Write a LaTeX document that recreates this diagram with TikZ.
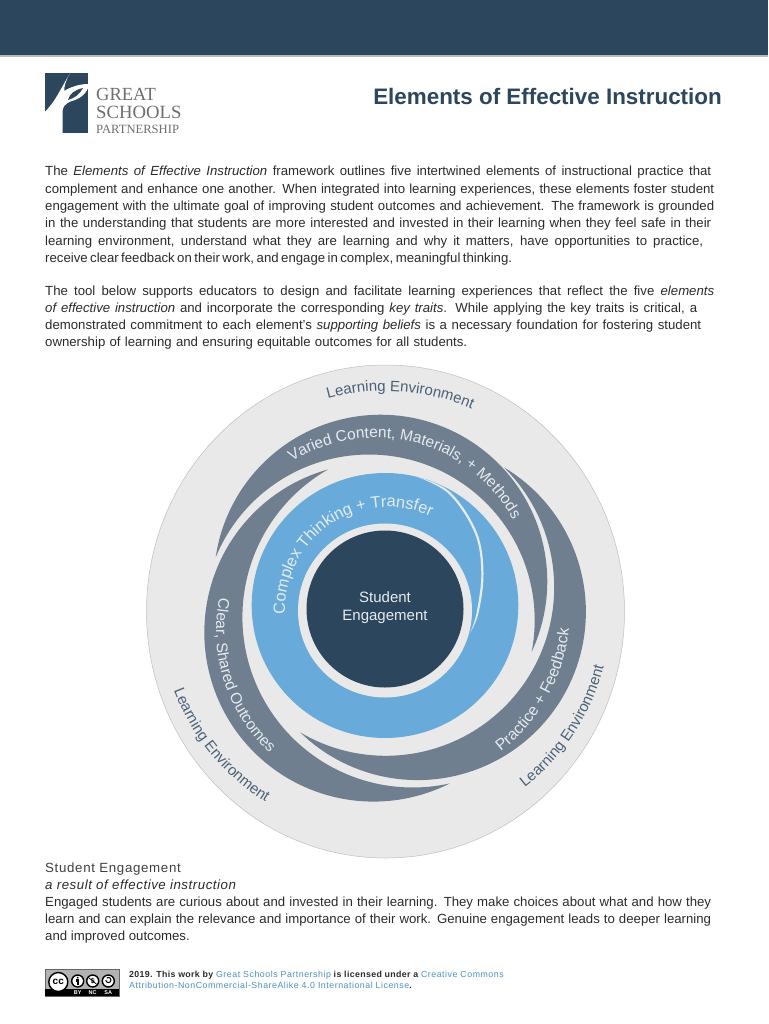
\documentclass[tikz,border=0pt]{standalone}
\usepackage{fontspec}
\setmainfont{Liberation Sans}
\newfontfamily\logofont{Liberation Serif}
\newfontfamily\footfont[LetterSpace=4]{Liberation Sans}
\newfontfamily\footlink[LetterSpace=6]{Liberation Sans}
\newfontfamily\headfont[LetterSpace=5]{Liberation Sans}
\newfontfamily\subheadfont[LetterSpace=4]{Liberation Sans}
\usetikzlibrary{decorations.text}
\definecolor{navy}{HTML}{2C465E}
\definecolor{slate}{HTML}{6F7F8F}
\definecolor{skyblue}{HTML}{68ABDB}
\definecolor{lightgrey}{HTML}{E9E9E9}
\definecolor{ringtext}{HTML}{4A6177}
\definecolor{paper}{HTML}{E6EBEF}
\definecolor{ink}{HTML}{2B2B2B}
\definecolor{linkblue}{HTML}{4C8FC6}
\definecolor{logogrey}{HTML}{6C6F72}
\newcommand\bodyline[4]{\node[bodytext] (#1) at (45,#2) {\hbox to \dimexpr#3pt-45pt\relax{#4}};}
\newcommand\arctext[8]{% colour, cx, cy, r, from, to, text, size
  \begin{scope}[x=1pt,y=1pt]
  \path[decorate,decoration={text along path,text align=center,
    text={|\fontsize{#8}{#8}\selectfont\color{#1}|#7}}]
    ({#2+#4*cos(#5)},{-#3+#4*sin(#5)}) arc [start angle=#5,end angle=#6,radius=#4];
  \end{scope}}
% crescent between two circles: outer cx cy r from to, inner cx cy r from to
\newcommand\crescent[8]{%
  \fill[band] plot[domain=#4:#5,samples=90] ({#1+#3*cos(\x)},{#2-#3*sin(\x)})
   -- plot[domain=#5:#4,samples=2] ({#1+#3*cos(\x)},{#2-#3*sin(\x)});
  #6 #7 #8}
\newcommand\lune[2]{\fill[band] plot[domain=#1,samples=90] #2 -- cycle;}
\tikzset{
  bodytext/.style={anchor=base west,inner sep=0pt,text=ink,font=\fontsize{13.2}{16}\selectfont},
  footline/.style={anchor=base west,inner sep=0pt,text=ink,font=\footfont\fontsize{8.8}{10}\selectfont\bfseries},
  logotext/.style={anchor=base west,inner sep=0pt,text=logogrey,font=\logofont},
  centertext/.style={inner sep=0pt,text=paper,font=\fontsize{15}{18}\selectfont},
  band/.style={fill=slate},
  cctag/.style={inner sep=0pt,text=white,font=\fontsize{5.5}{6}\selectfont\bfseries},
  ccring/.style={draw=black,line width=1.4pt,fill=white},
  sm/.style={smooth,tension=.6}
}
\newcommand\linktext[1]{\textcolor{linkblue}{\footlink\mdseries #1}}
\begin{document}
\begin{tikzpicture}[x=1pt,y=-1pt]
\useasboundingbox (0,0) rectangle (768,1024);
\fill[white] (0,0) rectangle (768,1024);
% header
\fill[navy] (0,0) rectangle (768,55);
\fill[black!28] (0,55) rectangle (768,57);
% logo
\fill[navy] (45,73.3) rectangle (88,133.3);
\fill[white] (45,111.7) .. controls (55,102) and (60,90) .. (70,73.3)
  .. controls (66,80) and (64,86) .. (64.3,91)
  .. controls (70,87) and (80,84) .. (88,84)
  -- (88,88.3) .. controls (84,97) and (76,100) .. (70,101.7)
  .. controls (65,104) and (62.5,107) .. (62.5,112)
  -- (62.5,133.3) -- (45,133.3) -- cycle;
\fill[navy] (68,100) .. controls (70,93) and (75,90) .. (83,88)
  .. controls (80,94) and (75,98) .. (68,100) -- cycle;
\node[logotext,font=\logofont\fontsize{18.5}{20}\selectfont] (lg1) at (96,100.7) {GREAT};
\node[logotext,font=\logofont\fontsize{18.7}{20}\selectfont] (lg2) at (96,118.7) {SCHOOLS};
\node[logotext,font=\logofont\fontsize{12.6}{14}\selectfont] (lg3) at (96,134) {PARTNERSHIP};
% title
\node[anchor=base east,inner sep=0pt,text=navy,font=\fontsize{22.4}{24}\selectfont\bfseries] (title) at (722,105) {Elements of Effective Instruction};
% paragraphs
\bodyline{a1}{176}{711}{The \textit{Elements of Effective Instruction} framework outlines five intertwined elements of instructional practice that}
\bodyline{a2}{193.3}{714}{complement and enhance one another. When integrated into learning experiences, these elements foster student}
\bodyline{a3}{210.6}{714}{engagement with the ultimate goal of improving student outcomes and achievement. The framework is grounded}
\bodyline{a4}{228}{711}{in the understanding that students are more interested and invested in their learning when they feel safe in their}
\bodyline{a5}{245.3}{703}{learning environment, understand what they are learning and why it matters, have opportunities to practice,}
\bodyline{a6}{262.6}{502}{receive clear feedback on their work, and engage in complex, meaningful thinking.}
\bodyline{b1}{295}{714}{The tool below supports educators to design and facilitate learning experiences that reflect the five \textit{elements}}
\bodyline{b2}{312}{697}{\textit{of effective instruction} and incorporate the corresponding \textit{key traits}. While applying the key traits is critical, a}
\bodyline{b3}{329.3}{701}{demonstrated commitment to each element’s \textit{supporting beliefs} is a necessary foundation for fostering student}
\bodyline{b4}{346.6}{467}{ownership of learning and ensuring equitable outcomes for all students.}
% diagram
\fill[lightgrey,draw=black!25,line width=.5pt] (385.5,611.5) ellipse [x radius=239,y radius=246.5];
% Varied Content band
\fill[band] plot[domain=171.7:-24.9,samples=90] ({380.6+166.7*cos(\x)},{581.4-166.7*sin(\x)})
  -- plot[domain=-11:157.7,samples=90] ({369+165.7*cos(\x)},{620.2-165.7*sin(\x)}) -- cycle;
% Clear, Shared Outcomes band
\fill[band] plot[domain=105.5:296.9,samples=90] ({373.5+169.2*cos(\x)},{632.4-169.2*sin(\x)})
  -- plot[domain=282.7:119.7,samples=90] ({412.7+170.3*cos(\x)},{617.2-170.3*sin(\x)}) -- cycle;
% Practice + Feedback band
\fill[band] plot[domain=59.1:-134.3,samples=90] ({417.6+168.3*cos(\x)},{611.8-168.3*sin(\x)})
  -- plot[domain=-120.6:45.5,samples=90] ({385.8+168.4*cos(\x)},{587.4-168.4*sin(\x)}) -- cycle;
\fill[skyblue] (385,605.5) ellipse [x radius=133.3,y radius=132.5];
\fill[lightgrey] (385,610.5) circle [radius=87];
\fill[paper] plot[sm] coordinates {(416.7,476.7) (450,492) (476.7,532) (483.5,573) (478.5,613) (470,633)}
  -- plot[sm] coordinates {(470,633) (476.5,613) (481.3,573) (474.7,533) (449,494) (416.7,476.7)} -- cycle;
\fill[navy] (385,609) circle [radius=78.5];
\node[centertext] (se1) at (385,597) {Student};
\node[centertext] (se2) at (385,617) {Engagement};
\arctext{ringtext}{385}{610}{219}{105}{66.8}{Learning Environment}{15}
\arctext{ringtext}{385}{610}{226}{200.4}{238.6}{Learning Environment}{15}
\arctext{ringtext}{385}{610}{226}{-52.1}{-14.3}{Learning Environment}{15}
\arctext{paper}{375.6}{593.4}{155.7}{122.5}{28.1}{Varied Content, Materials, + Methods}{15.5}
\arctext{paper}{388}{610}{103}{183.7}{64.1}{Complex Thinking + Transfer}{16.3}
\arctext{paper}{382.8}{630.7}{166.7}{167.6}{228.2}{Clear, Shared Outcomes}{15.5}
\arctext{paper}{390}{610}{180}{-52.4}{-5.7}{Practice + Feedback}{15.8}
% bottom text
\node[bodytext,font=\headfont\fontsize{13.3}{16}\selectfont,text=black!75] (h1) at (45,872) {Student Engagement};
\node[bodytext,font=\subheadfont\fontsize{13.3}{16}\selectfont\itshape] (h2) at (45,889) {a result of effective instruction};
\bodyline{c1}{906}{711}{Engaged students are curious about and invested in their learning. They make choices about what and how they}
\bodyline{c2}{923}{711}{learn and can explain the relevance and importance of their work. Genuine engagement leads to deeper learning}
\node[bodytext] (c3) at (45,940) {and improved outcomes.};
% licence badge
\fill[black!30,draw=black!60,line width=.3pt] (45,969) rectangle (119,996);
\fill[black] (45,989) rectangle (119,996);
\node[ccring,circle,minimum size=19pt,inner sep=0pt,font=\fontsize{10}{10}\selectfont\bfseries] (cc) at (58.3,982) {cc};
\node[ccring,circle,minimum size=12pt,inner sep=0pt] (by) at (77.7,981) {};
\node[ccring,circle,minimum size=12pt,inner sep=0pt,font=\fontsize{7}{7}\selectfont\bfseries] (nc) at (92.7,981) {\$};
\node[ccring,circle,minimum size=12pt,inner sep=0pt] (sa) at (108.3,981) {};
\fill[black] (77.7,977.6) circle [radius=1];
\fill[black] (76.2,979.2) rectangle (79.2,982.2);
\fill[black] (76.9,982.2) rectangle (78.5,985);
\draw[black,line width=.7pt] (88.6,977.6) -- (96.8,984.4);
\draw[black,line width=1pt] (105.8,980) arc [start angle=180,end angle=-130,radius=2.6];
\node[cctag] (tby) at (77.7,992.6) {BY};
\node[cctag] (tnc) at (92.7,992.6) {NC};
\node[cctag] (tsa) at (108.3,992.6) {SA};
% footer
\node[footline] (f1) at (129,977) {2019. This work by \linktext{Great Schools Partnership} is licensed under a \linktext{Creative Commons}};
\node[footline] (f2) at (129,988.5) {\linktext{Attribution-NonCommercial-ShareAlike 4.0 International License}.};
\end{tikzpicture}
\end{document}
